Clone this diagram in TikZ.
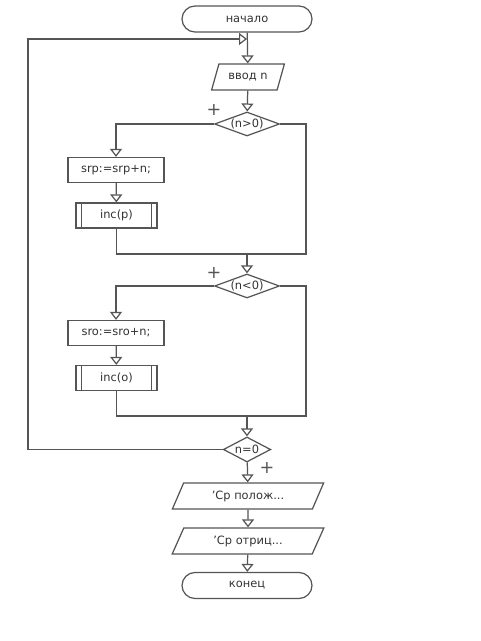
\documentclass[tikz,border=0pt]{standalone}
\usepackage{fontspec}
\setmainfont{DejaVu Sans}
\usetikzlibrary{shapes.geometric,arrows.meta}
\definecolor{linegray}{HTML}{555555}
\definecolor{textgray}{HTML}{333333}
\tikzset{
  term/.style={draw, rounded corners=0.26cm, minimum width=2.6cm, minimum height=0.52cm, text=textgray},
  io/.style={draw, trapezium, trapezium left angle=72, trapezium right angle=108, trapezium stretches=true, minimum height=0.52cm, text=textgray},
  cond/.style={draw, diamond, inner sep=0pt, aspect=2.7, text=textgray},
  proc/.style={draw, rectangle, minimum width=1.92cm, minimum height=0.5cm, text=textgray},
  sub/.style={draw, rectangle, minimum width=1.62cm, minimum height=0.5cm, text=textgray,
    path picture={
      \draw ([xshift=0.11cm]path picture bounding box.north west) -- ([xshift=0.11cm]path picture bounding box.south west);
      \draw ([xshift=-0.11cm]path picture bounding box.north east) -- ([xshift=-0.11cm]path picture bounding box.south east);}},
  flow/.style={-{Triangle[open, length=0.16cm, width=0.24cm]}},
  sign/.style={text=linegray, font=\fontsize{10}{10}\selectfont, inner sep=0pt}
}
\begin{document}
\begin{tikzpicture}[x=0.02cm, y=-0.02cm, line width=0.7pt, color=linegray,
  font=\fontsize{6.5}{7.5}\selectfont]
  \path[fill=white] (0,0) rectangle (480,641);
  \useasboundingbox (0,0) rectangle (480,641);
  % blocks
  \node[term] (start) at (247,19) {начало};
  \node[io, minimum width=1.46cm] (input) at (248,77) {ввод n};
  \node[cond, minimum width=1.3cm, minimum height=0.48cm] (pos) at (247,124) {(n>0)};
  \node[proc] (addp) at (116,170) {srp:=srp+n;};
  \node[sub] (incp) at (116.5,215.5) {inc(p)};
  \node[cond, minimum width=1.3cm, minimum height=0.48cm] (neg) at (247,286) {(n<0)};
  \node[proc] (addo) at (116,333) {sro:=sro+n;};
  \node[sub] (inco) at (116.5,378) {inc(o)};
  \node[cond, minimum width=0.78cm, minimum height=0.5cm] (zero) at (247,449.5) {n=0};
  \node[io, minimum width=3.04cm] (outp) at (248,496) {'Ср полож...};
  \node[io, minimum width=3.04cm] (outo) at (248,541) {'Ср отриц...};
  \node[term] (finish) at (247,585.5) {конец};
  % signs
  \node[sign] (plus1) at (214,110) {+};
  \node[sign] (plus2) at (214,273) {+};
  \node[sign] (plus3) at (267,468) {+};
  % helper points
  \coordinate (back) at (247,39);
  \coordinate (left) at (28,449.5);
  \coordinate (j1) at (247,254);
  \coordinate (r1) at (306,254);
  \coordinate (j2) at (247,416);
  \coordinate (r2) at (306,416);
  % connectors
  \draw[flow] (start) -- (input);
  \draw[flow] (input) -- (pos);
  \draw[flow] (pos.west) -| (addp.north);
  \draw[flow] (addp) -- (incp);
  \draw (incp.south) |- (j1);
  \draw (pos.east) -| (r1) -- (j1);
  \draw[flow] (j1) -- (neg);
  \draw[flow] (neg.west) -| (addo.north);
  \draw[flow] (addo) -- (inco);
  \draw (inco.south) |- (j2);
  \draw (neg.east) -| (r2) -- (j2);
  \draw[flow] (j2) -- (zero);
  \draw[flow] (zero.west) -- (left) |- (back);
  \draw[flow] (zero) -- (outp);
  \draw[flow] (outp) -- (outo);
  \draw[flow] (outo) -- (finish);
\end{tikzpicture}
\end{document}
